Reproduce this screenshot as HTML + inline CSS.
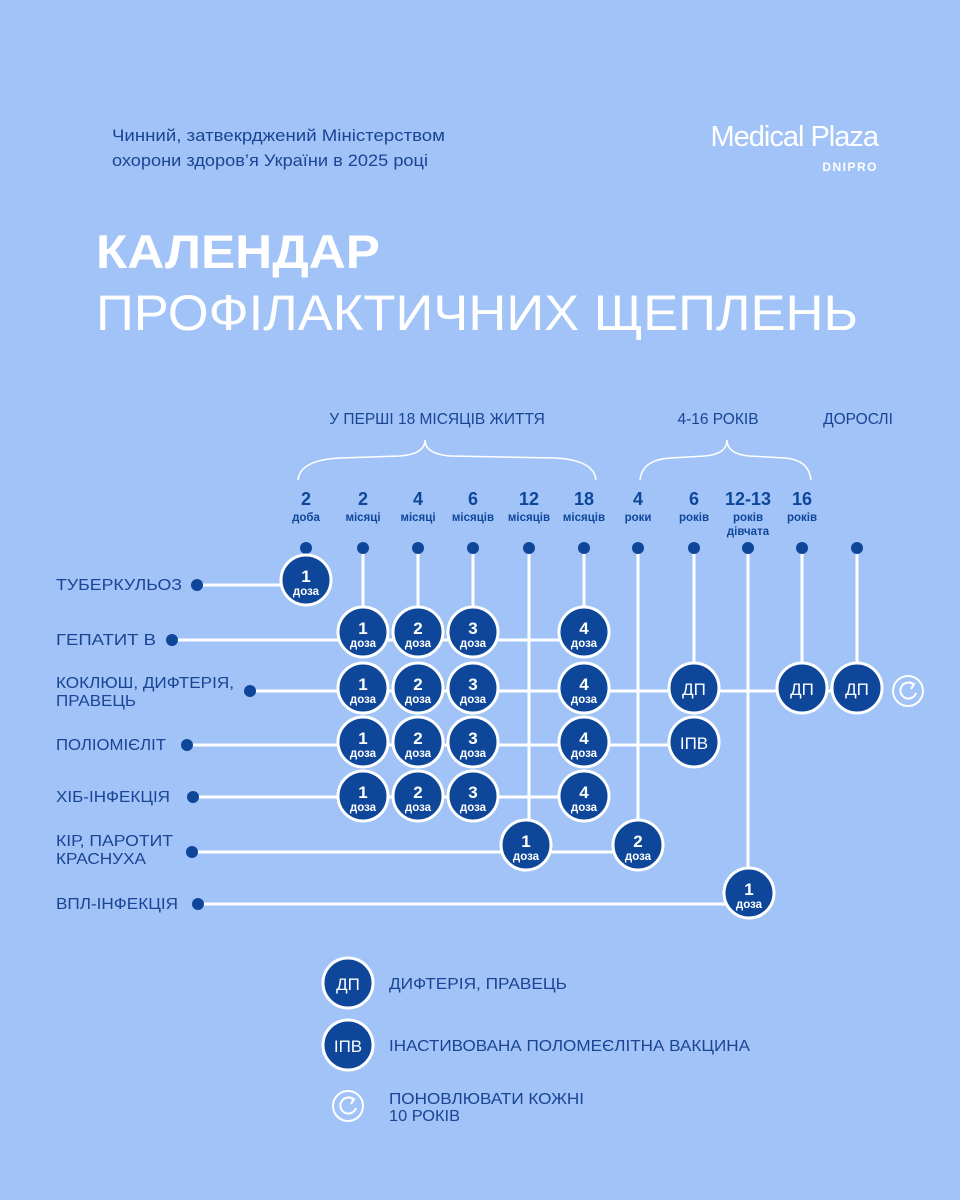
<!DOCTYPE html>
<html><head><meta charset="utf-8"><style>
html,body{margin:0;padding:0}
body{width:960px;height:1200px;background:#a1c3f7;overflow:hidden;font-family:"Liberation Sans","DejaVu Sans",sans-serif}
svg{display:block}
</style></head><body>
<svg width="960" height="1200" viewBox="0 0 960 1200" xmlns="http://www.w3.org/2000/svg" font-family="Liberation Sans, DejaVu Sans, sans-serif">
<rect width="960" height="1200" fill="#a1c3f7"/>
<text x="112" y="141" font-size="17" fill="#1a4594" textLength="333" lengthAdjust="spacingAndGlyphs">Чинний, затвекрджений Міністерством</text>
<text x="112" y="166" font-size="17" fill="#1a4594" textLength="316" lengthAdjust="spacingAndGlyphs">охорони здоров’я України в 2025 році</text>
<text x="878" y="146" font-size="29" fill="#fff" text-anchor="end" letter-spacing="-1">Medical Plaza</text>
<text x="878" y="171" font-size="12" font-weight="bold" fill="#fff" text-anchor="end" letter-spacing="1.5">DNIPRO</text>
<text x="96" y="268" font-size="47" font-weight="bold" fill="#fff" textLength="284" lengthAdjust="spacingAndGlyphs">КАЛЕНДАР</text>
<text x="96" y="330" font-size="50" fill="#fff" textLength="762" lengthAdjust="spacingAndGlyphs">ПРОФІЛАКТИЧНИХ ЩЕПЛЕНЬ</text>

<g font-size="15.5" fill="#1a4594" text-anchor="middle">
<text x="437" y="424">У ПЕРШІ 18 МІСЯЦІВ ЖИТТЯ</text>
<text x="718" y="424">4-16 РОКІВ</text>
<text x="858" y="424">ДОРОСЛІ</text>
</g>
<g fill="none" stroke="#fff" stroke-width="1.5">
<path d="M298 480 Q300 460 340 458 L400 456 Q425 454 425 440 Q425 454 450 456 L555 458 Q594 460 596 480"/>
<path d="M640 480 Q642 460 670 458 L705 456 Q727 454 727 440 Q727 454 749 456 L785 458 Q809 460 811 480"/>
</g>

<g fill="#0e4699" text-anchor="middle" font-weight="bold">
<g font-size="18"><text x="306" y="505">2</text><text x="363" y="505">2</text><text x="418" y="505">4</text><text x="473" y="505">6</text><text x="529" y="505">12</text><text x="584" y="505">18</text><text x="638" y="505">4</text><text x="694" y="505">6</text><text x="748" y="505">12-13</text><text x="802" y="505">16</text></g>
<g font-size="11.5"><text x="306" y="521">доба</text><text x="363" y="521">місяці</text><text x="418" y="521">місяці</text><text x="473" y="521">місяців</text><text x="529" y="521">місяців</text><text x="584" y="521">місяців</text><text x="638" y="521">роки</text><text x="694" y="521">років</text><text x="748" y="521">років</text><text x="748" y="535">дівчата</text><text x="802" y="521">років</text></g>
</g>

<g stroke="#fff" stroke-width="3" fill="none">
<line x1="306" y1="548" x2="306" y2="580"/>
<line x1="363" y1="548" x2="363" y2="632"/>
<line x1="418" y1="548" x2="418" y2="632"/>
<line x1="473" y1="548" x2="473" y2="632"/>
<line x1="529" y1="548" x2="529" y2="845"/>
<line x1="584" y1="548" x2="584" y2="632"/>
<line x1="638" y1="548" x2="638" y2="845"/>
<line x1="694" y1="548" x2="694" y2="688"/>
<line x1="748" y1="548" x2="748" y2="893"/>
<line x1="802" y1="548" x2="802" y2="688"/>
<line x1="857" y1="548" x2="857" y2="688"/>
<line x1="197" y1="585" x2="306" y2="585"/>
<line x1="172" y1="640" x2="584" y2="640"/>
<line x1="250" y1="691" x2="857" y2="691"/>
<line x1="187" y1="745" x2="694" y2="745"/>
<line x1="193" y1="797" x2="584" y2="797"/>
<line x1="192" y1="852" x2="638" y2="852"/>
<line x1="198" y1="904" x2="748" y2="904"/>
</g>
<g fill="#0e4699">
<circle cx="306" cy="548" r="6"/><circle cx="363" cy="548" r="6"/><circle cx="418" cy="548" r="6"/><circle cx="473" cy="548" r="6"/><circle cx="529" cy="548" r="6"/><circle cx="584" cy="548" r="6"/><circle cx="638" cy="548" r="6"/><circle cx="694" cy="548" r="6"/><circle cx="748" cy="548" r="6"/><circle cx="802" cy="548" r="6"/><circle cx="857" cy="548" r="6"/>
<circle cx="197" cy="585" r="6"/><circle cx="172" cy="640" r="6"/><circle cx="250" cy="691" r="6"/><circle cx="187" cy="745" r="6"/><circle cx="193" cy="797" r="6"/><circle cx="192" cy="852" r="6"/><circle cx="198" cy="904" r="6"/>
</g>

<g font-size="16" fill="#1a4594">
<text x="56" y="590" textLength="126" lengthAdjust="spacingAndGlyphs">ТУБЕРКУЛЬОЗ</text>
<text x="56" y="645" textLength="100" lengthAdjust="spacingAndGlyphs">ГЕПАТИТ В</text>
<text x="56" y="688" textLength="178" lengthAdjust="spacingAndGlyphs">КОКЛЮШ, ДИФТЕРІЯ,</text>
<text x="56" y="706" textLength="80" lengthAdjust="spacingAndGlyphs">ПРАВЕЦЬ</text>
<text x="56" y="750" textLength="110" lengthAdjust="spacingAndGlyphs">ПОЛІОМІЄЛІТ</text>
<text x="56" y="802" textLength="114" lengthAdjust="spacingAndGlyphs">ХІБ-ІНФЕКЦІЯ</text>
<text x="56" y="846" textLength="117" lengthAdjust="spacingAndGlyphs">КІР, ПАРОТИТ</text>
<text x="56" y="864" textLength="90" lengthAdjust="spacingAndGlyphs">КРАСНУХА</text>
<text x="56" y="909" textLength="122" lengthAdjust="spacingAndGlyphs">ВПЛ-ІНФЕКЦІЯ</text>
</g>

<defs>
<g id="c"><circle r="25" fill="#0e4699" stroke="#fff" stroke-width="3"/></g>
</defs>
<g fill="#fff" text-anchor="middle" font-weight="bold">
<use href="#c" x="306" y="580"/><text x="306" y="582" font-size="17">1</text><text x="306" y="595" font-size="11.5">доза</text>
<use href="#c" x="363" y="632"/><text x="363" y="634" font-size="17">1</text><text x="363" y="647" font-size="11.5">доза</text>
<use href="#c" x="418" y="632"/><text x="418" y="634" font-size="17">2</text><text x="418" y="647" font-size="11.5">доза</text>
<use href="#c" x="473" y="632"/><text x="473" y="634" font-size="17">3</text><text x="473" y="647" font-size="11.5">доза</text>
<use href="#c" x="584" y="632"/><text x="584" y="634" font-size="17">4</text><text x="584" y="647" font-size="11.5">доза</text>

<use href="#c" x="363" y="688"/><text x="363" y="690" font-size="17">1</text><text x="363" y="703" font-size="11.5">доза</text>
<use href="#c" x="418" y="688"/><text x="418" y="690" font-size="17">2</text><text x="418" y="703" font-size="11.5">доза</text>
<use href="#c" x="473" y="688"/><text x="473" y="690" font-size="17">3</text><text x="473" y="703" font-size="11.5">доза</text>
<use href="#c" x="584" y="688"/><text x="584" y="690" font-size="17">4</text><text x="584" y="703" font-size="11.5">доза</text>

<use href="#c" x="363" y="742"/><text x="363" y="744" font-size="17">1</text><text x="363" y="757" font-size="11.5">доза</text>
<use href="#c" x="418" y="742"/><text x="418" y="744" font-size="17">2</text><text x="418" y="757" font-size="11.5">доза</text>
<use href="#c" x="473" y="742"/><text x="473" y="744" font-size="17">3</text><text x="473" y="757" font-size="11.5">доза</text>
<use href="#c" x="584" y="742"/><text x="584" y="744" font-size="17">4</text><text x="584" y="757" font-size="11.5">доза</text>

<use href="#c" x="363" y="796"/><text x="363" y="798" font-size="17">1</text><text x="363" y="811" font-size="11.5">доза</text>
<use href="#c" x="418" y="796"/><text x="418" y="798" font-size="17">2</text><text x="418" y="811" font-size="11.5">доза</text>
<use href="#c" x="473" y="796"/><text x="473" y="798" font-size="17">3</text><text x="473" y="811" font-size="11.5">доза</text>
<use href="#c" x="584" y="796"/><text x="584" y="798" font-size="17">4</text><text x="584" y="811" font-size="11.5">доза</text>

<use href="#c" x="526" y="845"/><text x="526" y="847" font-size="17">1</text><text x="526" y="860" font-size="11.5">доза</text>
<use href="#c" x="638" y="845"/><text x="638" y="847" font-size="17">2</text><text x="638" y="860" font-size="11.5">доза</text>
<use href="#c" x="749" y="893"/><text x="749" y="895" font-size="17">1</text><text x="749" y="908" font-size="11.5">доза</text>
</g>
<g fill="#fff" text-anchor="middle" font-size="17">
<use href="#c" x="694" y="688"/><text x="694" y="695">ДП</text>
<use href="#c" x="802" y="688"/><text x="802" y="695">ДП</text>
<use href="#c" x="857" y="688"/><text x="857" y="695">ДП</text>
<use href="#c" x="694" y="742"/><text x="694" y="749">ІПВ</text>
<use href="#c" x="348" y="983"/><text x="348" y="990">ДП</text>
<use href="#c" x="348" y="1045"/><text x="348" y="1052">ІПВ</text>
</g>
<g fill="none" stroke="#fff" stroke-width="2">
<circle cx="908" cy="691" r="15"/>
<path d="M913 684 A8 8 0 1 0 916 693"/>
<path d="M909 682 L914 684 L911 689"/>
<circle cx="348" cy="1106" r="15"/>
<path d="M353 1099 A8 8 0 1 0 356 1108"/>
<path d="M349 1097 L354 1099 L351 1104"/>
</g>
<g font-size="16" fill="#1a4594">
<text x="389" y="989" textLength="178" lengthAdjust="spacingAndGlyphs">ДИФТЕРІЯ, ПРАВЕЦЬ</text>
<text x="389" y="1051" textLength="361" lengthAdjust="spacingAndGlyphs">ІНАСТИВОВАНА ПОЛОМЕЄЛІТНА ВАКЦИНА</text>
<text x="389" y="1104" textLength="195" lengthAdjust="spacingAndGlyphs">ПОНОВЛЮВАТИ КОЖНІ</text>
<text x="389" y="1121" textLength="71" lengthAdjust="spacingAndGlyphs">10 РОКІВ</text>
</g>
</svg>
</body></html>
